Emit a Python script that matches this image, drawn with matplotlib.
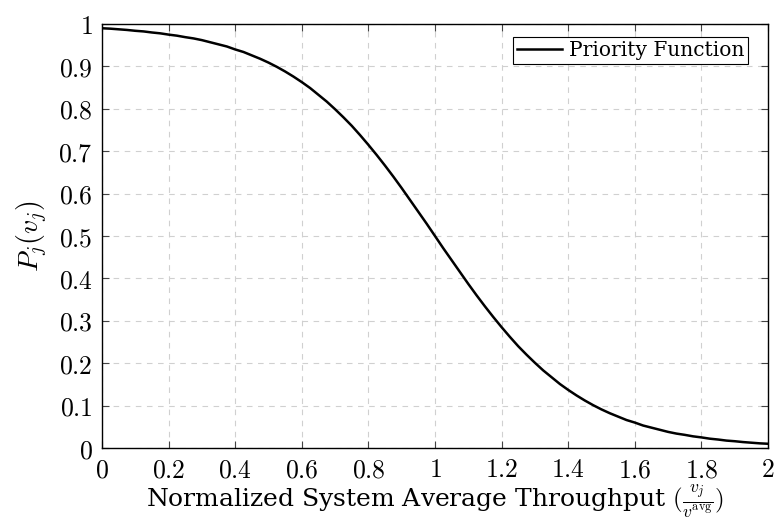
import matplotlib
matplotlib.use("Agg")
import matplotlib.pyplot as plt

plt.rcParams["mathtext.fontset"] = "cm"
plt.rcParams["font.family"] = "DejaVu Serif"

# normalized throughput v_j / v_avg
x = [0.0, 0.025, 0.05, 0.075, 0.1, 0.125, 0.15, 0.175, 0.2, 0.225,
     0.25, 0.275, 0.3, 0.325, 0.35, 0.375, 0.4, 0.425, 0.45, 0.475,
     0.5, 0.525, 0.55, 0.575, 0.6, 0.625, 0.65, 0.675, 0.7, 0.725,
     0.75, 0.775, 0.8, 0.825, 0.85, 0.875, 0.9, 0.925, 0.95, 0.975,
     1.0, 1.025, 1.05, 1.075, 1.1, 1.125, 1.15, 1.175, 1.2, 1.225,
     1.25, 1.275, 1.3, 1.325, 1.35, 1.375, 1.4, 1.425, 1.45, 1.475,
     1.5, 1.525, 1.55, 1.575, 1.6, 1.625, 1.65, 1.675, 1.7, 1.725,
     1.75, 1.775, 1.8, 1.825, 1.85, 1.875, 1.9, 1.925, 1.95, 1.975, 2.0]
# priority P_j(v_j)
p = [0.990, 0.989, 0.9875, 0.986, 0.984, 0.9825, 0.980, 0.978, 0.975, 0.9725,
     0.969, 0.966, 0.962, 0.957, 0.952, 0.947, 0.940, 0.934, 0.926, 0.918,
     0.909, 0.899, 0.888, 0.876, 0.863, 0.849, 0.833, 0.817, 0.799, 0.780,
     0.760, 0.738, 0.715, 0.691, 0.666, 0.640, 0.613, 0.585, 0.557, 0.529,
     0.500, 0.471, 0.443, 0.415, 0.387, 0.360, 0.334, 0.309, 0.285, 0.262,
     0.240, 0.220, 0.201, 0.183, 0.167, 0.151, 0.137, 0.124, 0.112, 0.101,
     0.091, 0.082, 0.074, 0.066, 0.060, 0.053, 0.048, 0.043, 0.038, 0.034,
     0.031, 0.0275, 0.025, 0.022, 0.020, 0.0175, 0.016, 0.014, 0.0125, 0.011, 0.010]

xticks = [0, 0.2, 0.4, 0.6, 0.8, 1, 1.2, 1.4, 1.6, 1.8, 2]
xlabels = ["0", "0.2", "0.4", "0.6", "0.8", "1", "1.2", "1.4", "1.6", "1.8", "2"]
yticks = [0, 0.1, 0.2, 0.3, 0.4, 0.5, 0.6, 0.7, 0.8, 0.9, 1]
ylabels = ["0", "0.1", "0.2", "0.3", "0.4", "0.5", "0.6", "0.7", "0.8", "0.9", "1"]

fig = plt.figure(figsize=(7.76, 5.23), dpi=100)
ax = fig.add_axes([0.1314, 0.1434, 0.8583, 0.8107])

ax.plot(x, p, color="black", lw=1.8, label="Priority Function")

ax.set_xlim(0, 2)
ax.set_ylim(0, 1)
ax.set_xticks(xticks)
ax.set_xticklabels(["$" + s + "$" for s in xlabels], fontsize=18.5)
ax.set_yticks(yticks)
ax.set_yticklabels(["$" + s + "$" for s in ylabels], fontsize=18.5)
ax.tick_params(direction="in", top=True, right=True, length=5, width=0.8,
               color="#444444", pad=6.5)
ax.grid(True, color="#d0d0d0", linestyle=(0, (5, 5)), lw=0.8)
for s in ax.spines.values():
    s.set_linewidth(1.0)

ax.set_xlabel(r"Normalized System Average Throughput $(\frac{v_j}{v^{\rm avg}})$",
              fontsize=18, labelpad=0)
ax.set_ylabel(r"$P_j(v_j)$", fontsize=20, labelpad=6)

leg = ax.legend(loc="upper right", bbox_to_anchor=(0.97, 0.97), borderaxespad=0,
                fontsize=14.5, fancybox=False, edgecolor="black", framealpha=1,
                handlelength=2.2, handletextpad=0.35, borderpad=0.2)
leg.get_frame().set_linewidth(0.8)

fig.savefig("out.png", dpi=100)
